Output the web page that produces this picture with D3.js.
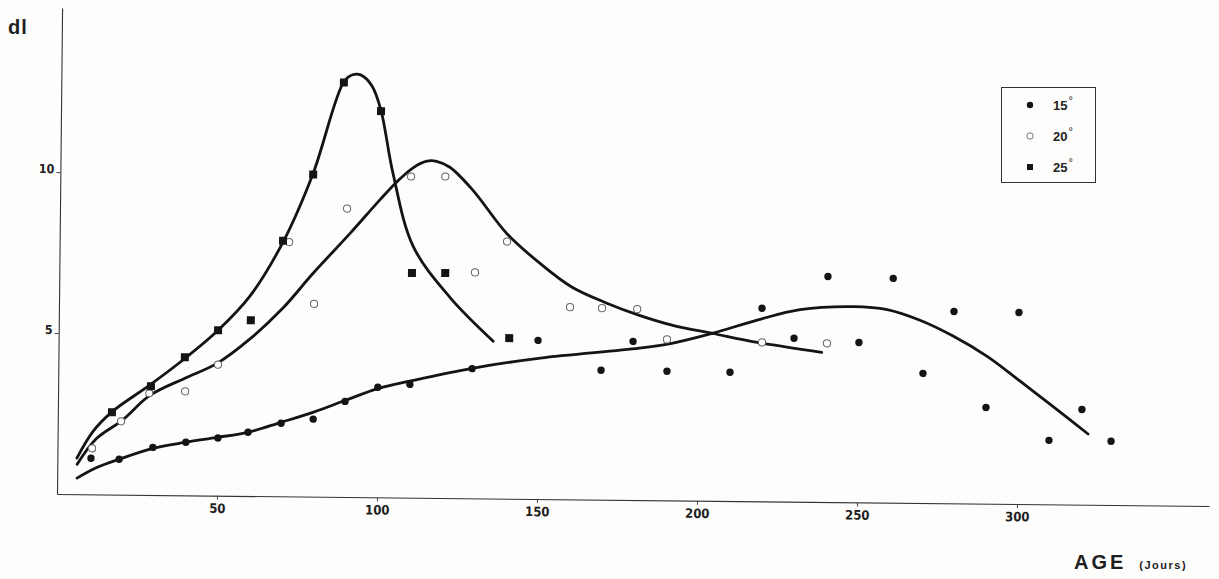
<!DOCTYPE html>
<html>
<head>
<meta charset="utf-8">
<script src="https://cdn.jsdelivr.net/npm/d3@7"></script>
<style>
  html, body { margin: 0; padding: 0; background: #fdfdfb; }
  svg { display: block; }
</style>
</head>
<body>
<svg id="chart" width="1219" height="579"></svg>
<script>
// ---- data (age in days, dl) ----
const xTicks = [50, 100, 150, 200, 250, 300];
const yTicks = [5, 10];
const seriesLabels = ["15", "20", "25"];

// 15° observations (filled circles)
const days15 = [10.5, 19.3, 29.8, 40.1, 50.1, 59.5, 69.8, 79.8, 89.7, 99.9, 109.9, 129.3, 149.8, 169.6, 179.5, 190.2, 209.9, 219.7, 229.8, 240.2, 250.1, 260.6, 270.2, 279.7, 290.0, 300.0, 309.8, 320.0, 329.2];
const dl15   = [1.12, 1.10, 1.48, 1.65, 1.79, 1.98, 2.27, 2.41, 2.97, 3.42, 3.52, 4.03, 4.93, 4.02, 4.93, 4.01, 4.00, 6.00, 5.08, 7.01, 4.97, 6.97, 4.03, 5.96, 2.99, 5.95, 1.99, 2.96, 1.98];

// 20° observations (open circles)
const days20 = [10.8, 19.8, 28.5, 39.7, 49.9, 71.7, 79.7, 89.7, 109.6, 120.3, 129.9, 139.8, 159.7, 169.7, 180.7, 190.1, 219.8, 240.1];
const dl20   = [1.43, 2.28, 3.16, 3.23, 4.07, 7.90, 5.99, 8.96, 9.98, 9.99, 7.02, 7.99, 5.97, 5.95, 5.93, 5.00, 4.94, 4.93];

// 25° observations (filled squares)
const days25 = [16.9, 29.0, 39.5, 49.8, 60.0, 69.8, 79.0, 88.3, 100.0, 110.2, 120.6, 140.8];
const dl25   = [2.56, 3.38, 4.29, 5.14, 5.46, 7.94, 10.01, 12.88, 12.00, 6.98, 6.99, 4.99];

// hand-drawn fitted curves
const curve15Days = [6.2, 12.0, 19.3, 29.8, 40.1, 49.8, 59.5, 69.8, 79.7, 89.7, 99.9, 109.9, 129.3, 150.6, 181.5, 192.0, 204.5, 218.2, 231.6, 248.2, 258.8, 269.1, 279.5, 290.2, 300.6, 311.0, 322.0];
const curve15Dl   = [0.50, 0.82, 1.10, 1.45, 1.65, 1.81, 1.98, 2.30, 2.62, 3.00, 3.38, 3.62, 4.04, 4.38, 4.72, 4.89, 5.21, 5.63, 5.97, 6.08, 6.00, 5.68, 5.20, 4.58, 3.82, 3.04, 2.20];

const curve20Days = [6.2, 12.0, 20.1, 28.8, 39.6, 49.6, 59.8, 70.0, 79.3, 90.8, 100.0, 105.3, 110.2, 114.5, 117.5, 121.7, 129.0, 139.7, 150.2, 160.3, 171.4, 181.4, 191.9, 204.5, 218.3, 238.5];
const curve20Dl   = [0.93, 1.72, 2.31, 3.10, 3.64, 4.11, 4.88, 5.85, 6.94, 8.20, 9.25, 9.82, 10.25, 10.46, 10.46, 10.28, 9.57, 8.24, 7.32, 6.59, 6.10, 5.74, 5.44, 5.20, 4.94, 4.65];

const curve25Days = [6.1, 11.0, 16.9, 28.7, 39.6, 49.8, 59.7, 69.8, 78.9, 88.3, 91.0, 93.5, 97.1, 100.0, 103.9, 110.5, 122.2, 135.8];
const curve25Dl   = [1.12, 1.95, 2.57, 3.42, 4.26, 5.14, 6.22, 7.90, 10.02, 12.90, 13.12, 13.12, 12.78, 12.02, 10.09, 7.81, 6.23, 4.89];

// ---- drawing ----
const svg = d3.select("#chart");
const ink = "#141414";
const x = d3.scaleLinear().domain([0, 360]).range([57, 1209]);
const y = d3.scaleLinear().domain([0, 15.1]).range([494, 8]);

// whole plot slightly tilted like the scanned original
const g = svg.append("g").attr("transform", "rotate(0.6, 57, 494)");

const tickFont = "'DejaVu Sans Condensed', 'Liberation Sans Narrow', 'Liberation Sans', sans-serif";

const xAxis = g.append("g")
  .attr("transform", `translate(0,${y(0)})`)
  .call(d3.axisBottom(x).tickValues(xTicks).tickSize(4).tickPadding(4).tickSizeOuter(0));
xAxis.select(".domain").attr("stroke", "#333").attr("stroke-width", 1.1);
xAxis.selectAll(".tick line").attr("stroke", "#444").attr("stroke-width", 1);
xAxis.selectAll(".tick text")
  .attr("font-family", tickFont).attr("font-weight", "bold").attr("font-size", 13)
  .attr("fill", "#1e1e1e");

const yAxis = g.append("g")
  .attr("transform", `translate(${x(0)},0)`)
  .call(d3.axisLeft(y).tickValues(yTicks).tickSize(4).tickPadding(2).tickSizeOuter(0));
yAxis.select(".domain").attr("stroke", "#333").attr("stroke-width", 1.1);
yAxis.selectAll(".tick line").attr("stroke", "#444").attr("stroke-width", 1);
yAxis.selectAll(".tick text")
  .attr("font-family", tickFont).attr("font-weight", "bold").attr("font-size", 12.5)
  .attr("fill", "#1e1e1e").attr("dy", "0.05em");

// curves
const line = d3.line().x(d => x(d[0])).y(d => y(d[1])).curve(d3.curveCatmullRom.alpha(0.5));
const curves = [
  d3.zip(curve15Days, curve15Dl),
  d3.zip(curve20Days, curve20Dl),
  d3.zip(curve25Days, curve25Dl)
];
g.selectAll("path.fit").data(curves).join("path")
  .attr("class", "fit")
  .attr("d", line)
  .attr("fill", "none")
  .attr("stroke", ink)
  .attr("stroke-width", 2.8)
  .attr("stroke-linecap", "round")
  .attr("stroke-linejoin", "round");

// points
g.selectAll("circle.s15").data(d3.zip(days15, dl15)).join("circle")
  .attr("class", "s15")
  .attr("cx", d => x(d[0])).attr("cy", d => y(d[1])).attr("r", 3.7)
  .attr("fill", ink);

g.selectAll("circle.s20").data(d3.zip(days20, dl20)).join("circle")
  .attr("class", "s20")
  .attr("cx", d => x(d[0])).attr("cy", d => y(d[1])).attr("r", 3.6)
  .attr("fill", "#fdfdfb").attr("stroke", "#666").attr("stroke-width", 1);

const sq = 8;
g.selectAll("rect.s25").data(d3.zip(days25, dl25)).join("rect")
  .attr("class", "s25")
  .attr("x", d => x(d[0]) - sq / 2).attr("y", d => y(d[1]) - sq / 2)
  .attr("width", sq).attr("height", sq)
  .attr("fill", ink);

// axis titles
svg.append("text").attr("x", 8).attr("y", 34)
  .attr("font-family", "'Liberation Sans', Arial, sans-serif")
  .attr("font-weight", "bold").attr("font-size", 20).attr("letter-spacing", 1).attr("fill", "#1e1e1e")
  .text("dl");

const ageT = svg.append("text").attr("x", 1074).attr("y", 569)
  .attr("font-family", "'Liberation Sans', Arial, sans-serif")
  .attr("font-weight", "bold").attr("fill", "#1e1e1e");
ageT.append("tspan").attr("font-size", 20).attr("letter-spacing", 3).text("AGE");
ageT.append("tspan").attr("dx", 13).attr("font-size", 11).attr("letter-spacing", 1.5).text("(Jours)");

// legend
const lg = svg.append("g");
lg.append("rect").attr("x", 1001.5).attr("y", 87.5).attr("width", 94).attr("height", 95)
  .attr("fill", "none").attr("stroke", "#333").attr("stroke-width", 1);
const legY = [105, 136, 167];
lg.append("circle").attr("cx", 1030).attr("cy", legY[0]).attr("r", 3.2).attr("fill", ink);
lg.append("circle").attr("cx", 1030).attr("cy", legY[1]).attr("r", 3.2)
  .attr("fill", "#fdfdfb").attr("stroke", "#777").attr("stroke-width", 1);
lg.append("rect").attr("x", 1027).attr("y", legY[2] - 3).attr("width", 6).attr("height", 6).attr("fill", ink);
seriesLabels.forEach((s, i) => {
  const t = lg.append("text").attr("x", 1053).attr("y", legY[i] + 5)
    .attr("font-family", "'Liberation Sans', Arial, sans-serif")
    .attr("font-weight", "bold").attr("font-size", 13).attr("fill", "#222");
  t.append("tspan").text(s);
  t.append("tspan").attr("dy", -6).attr("dx", 1).attr("font-size", 11).attr("font-weight", "normal").text("°");
});
</script>
</body>
</html>
